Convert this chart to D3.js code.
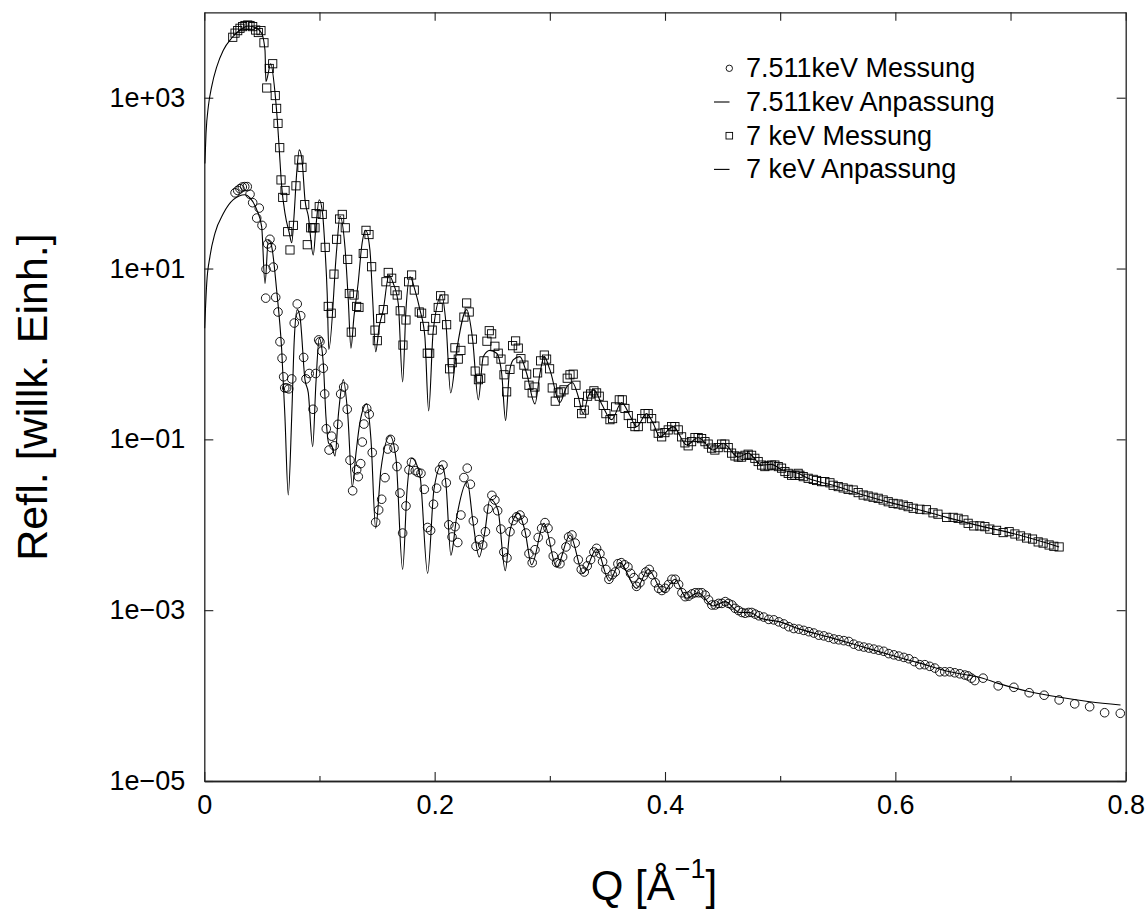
<!DOCTYPE html>
<html>
<head>
<meta charset="utf-8">
<script src="https://cdn.jsdelivr.net/npm/d3@7"></script>
<style>
  body { margin: 0; background: #fff; }
  svg { font-family: "Liberation Sans", Arial, Helvetica, sans-serif; }
</style>
</head>
<body>
<div id="refl-plot"></div>
<script>

// Reflectivity data [Q (1/A), R]

// 7.511 keV measurement (circles)
const meas7511 = [
  [0.0267,77],[0.0290,82],[0.0310,86],[0.0330,90],[0.0351,91],[0.0373,91],[0.0397,74],[0.0420,59],[0.0455,39],[0.0477,51],
  [0.0501,32],[0.0536,9.8],[0.0533,4.5],[0.0550,19.4],[0.0570,22],[0.0582,17.6],[0.0599,10.4],[0.0620,4.6],[0.0640,3.1],[0.0657,1.39],
  [0.0675,0.89],[0.0689,0.54],[0.0698,0.40],[0.0715,0.40],[0.0733,0.39],[0.0759,0.51],[0.0781,2.3],[0.0807,3.85],[0.0837,2.8],[0.0863,0.91],
  [0.0883,0.51],[0.0911,0.59],[0.0944,0.225],[0.0967,0.59],[0.0993,1.46],[0.1004,1.39],[0.1022,1.08],[0.1033,0.68],[0.1045,0.34],[0.1059,0.133],
  [0.1083,0.075],[0.1106,0.109],[0.1128,0.084],[0.1161,0.150],[0.1184,0.34],[0.1210,0.41],[0.1241,0.225],[0.1265,0.057],[0.1288,0.025],[0.1323,0.044],
  [0.1337,0.0366],[0.1358,0.052],[0.1372,0.093],[0.1386,0.151],[0.1410,0.23],[0.1432,0.197],[0.1458,0.070],[0.1488,0.0107],[0.1514,0.0149],[0.1540,0.0199],
  [0.1569,0.0356],[0.1592,0.077],[0.1616,0.100],[0.1647,0.079],[0.1673,0.048],[0.1699,0.0235],[0.1722,0.0080],[0.1751,0.0166],[0.1777,0.044],[0.1799,0.054],
  [0.1832,0.043],[0.1855,0.041],[0.1881,0.040],[0.1910,0.026],[0.1939,0.0093],[0.1965,0.0086],[0.1990,0.0174],[0.2017,0.0268],[0.2043,0.044],[0.2072,0.050],
  [0.2101,0.031],[0.2123,0.0100],[0.2151,0.0072],[0.2177,0.0095],[0.2201,0.0062],[0.2228,0.0130],[0.2254,0.0357],[0.2283,0.046],[0.2310,0.0298],[0.2336,0.0111],
  [0.2359,0.0056],[0.2387,0.0067],[0.2417,0.0058],[0.2441,0.0083],[0.2465,0.0153],[0.2497,0.0221],[0.2523,0.0195],[0.2547,0.0146],[0.2575,0.0089],[0.2601,0.0048],
  [0.2628,0.0041],[0.2654,0.0083],[0.2682,0.0112],[0.2712,0.0124],[0.2741,0.0130],[0.2769,0.0113],[0.2793,0.0080],[0.2819,0.0046],[0.2847,0.0036],[0.2871,0.0051],
  [0.2899,0.0071],[0.2929,0.0091],[0.2958,0.0106],[0.2984,0.0091],[0.3007,0.0063],[0.3030,0.0043],[0.3059,0.0036],[0.3088,0.0035],[0.3111,0.0042],[0.3140,0.0055],
  [0.3163,0.0072],[0.3192,0.0076],[0.3220,0.0061],[0.3247,0.0039],[0.3273,0.0030],[0.3299,0.0028],[0.3325,0.0033],[0.3354,0.0039],[0.3383,0.0048],[0.3406,0.0053],
  [0.3435,0.0046],[0.3458,0.0037],[0.3487,0.0030],[0.3513,0.0023],[0.3542,0.0026],[0.3568,0.0028],[0.3591,0.0035],[0.3620,0.0036],[0.3649,0.0034],[0.3678,0.0032],
  [0.3701,0.0027],[0.3730,0.0024],[0.3753,0.0019],[0.3782,0.0021],[0.3811,0.0025],[0.3834,0.0028],[0.3863,0.0030],[0.3892,0.0026],[0.3915,0.0021],[0.3945,0.0018],
  [0.3973,0.0017],[0.4002,0.0018],[0.4031,0.0020],[0.4060,0.0023],[0.4089,0.0023],[0.4118,0.0020],[0.4147,0.0016],[0.4175,0.00144],[0.4205,0.00146],[0.4234,0.00155],
  [0.4262,0.0016],[0.4292,0.0016],[0.4320,0.0016],[0.4349,0.0015],[0.4378,0.00132],[0.4407,0.00115],[0.4436,0.00115],[0.4465,0.0012],[0.4494,0.0012],[0.4523,0.00126],
  [0.4552,0.0012],[0.4581,0.00115],[0.4609,0.00105],[0.4639,0.00099],[0.4668,0.00094],[0.4696,0.00092],[0.4726,0.00094],[0.4754,0.00094],[0.4783,0.00090],[0.4815,0.00086],
  [0.4858,0.00083],[0.4901,0.00078],[0.4945,0.00077],[0.4988,0.00073],[0.5032,0.00069],[0.5075,0.00064],[0.5118,0.00061],[0.5162,0.00060],[0.5205,0.00058],[0.5249,0.00056],
  [0.5292,0.00054],[0.5335,0.00051],[0.5379,0.00050],[0.5422,0.00048],[0.5466,0.00046],[0.5509,0.00045],[0.5553,0.00044],[0.5596,0.00043],[0.5639,0.00040],[0.5683,0.00038],
  [0.5726,0.00037],[0.5770,0.00036],[0.5813,0.00035],[0.5856,0.00034],[0.5900,0.00033],[0.5943,0.00031],[0.5987,0.00030],[0.6030,0.00029],[0.6074,0.00028],[0.6117,0.00027],
  [0.6165,0.00025],[0.6212,0.00023],[0.6256,0.00023],[0.6299,0.00022],[0.6343,0.00021],[0.6386,0.00019],[0.6429,0.00019],[0.6473,0.00019],[0.6516,0.000185],[0.6560,0.00018],
  [0.6603,0.000174],[0.6632,0.00017],[0.6661,0.00016],[0.6690,0.00015],[0.6762,0.00016],[0.6893,0.00013],[0.7029,0.000125],[0.7162,0.000108],[0.7292,0.000101],[0.7422,0.000089],
  [0.7557,0.000080],[0.7687,0.000074],[0.7817,0.000063],[0.7953,0.000062]
];

// 7.511 keV fit (line)
const fit7511 = [
  [0.0003,2.0],[0.0021,6.7],[0.0049,13.8],[0.0093,26],[0.0165,44],[0.0252,64],[0.0353,73],[0.0397,67],[0.0455,49],[0.0498,31],
  [0.0527,6.7],[0.0556,21.6],[0.0585,18],[0.0628,5.6],[0.0672,1.11],[0.0700,0.185],[0.0729,0.0223],[0.0759,0.185],[0.0781,1.46],[0.0807,3.3],
  [0.0831,2.7],[0.0874,0.50],[0.0903,0.35],[0.0941,0.082],[0.0969,0.45],[0.0998,1.53],[0.1033,0.78],[0.1056,0.185],[0.1080,0.09],[0.1105,0.085],
  [0.1135,0.064],[0.1165,0.2],[0.1207,0.50],[0.1245,0.2],[0.1285,0.028],[0.1317,0.069],[0.1352,0.16],[0.1410,0.26],[0.1447,0.1],[0.1488,0.0091],
  [0.1534,0.045],[0.1612,0.11],[0.1664,0.06],[0.1722,0.0030],[0.1760,0.025],[0.1800,0.060],[0.1872,0.038],[0.1939,0.0027],[0.1994,0.026],[0.2061,0.050],
  [0.2098,0.03],[0.2141,0.0044],[0.2190,0.012],[0.2283,0.032],[0.2332,0.011],[0.2387,0.0042],[0.2437,0.0085],[0.2480,0.020],[0.2549,0.015],[0.2613,0.0029],
  [0.2654,0.0085],[0.2726,0.0136],[0.2784,0.0085],[0.2842,0.0034],[0.2949,0.0104],[0.3059,0.0032],[0.3175,0.0076],[0.3290,0.0027],[0.3406,0.0052],[0.3516,0.0022],
  [0.3609,0.0036],[0.3753,0.0018],[0.3854,0.0030],[0.3985,0.00164],[0.4086,0.0023],[0.4188,0.00138],[0.4288,0.0016],[0.4418,0.00112],[0.4523,0.00126],[0.4650,0.00094],
  [0.4737,0.00094],[0.4824,0.00081],[0.4998,0.00073],[0.5171,0.00060],[0.5431,0.00048],[0.5692,0.00038],[0.5952,0.00030],[0.6212,0.00024],[0.6473,0.00019],[0.6759,0.00016],
  [0.6893,0.000139],[0.7168,0.000111],[0.7428,0.0000955],[0.7688,0.0000848],[0.7955,0.0000775]
];

// 7 keV measurement (squares)
const meas7 = [
  [0.0247,5100],[0.0267,5700],[0.0290,6100],[0.0310,6500],[0.0333,6800],[0.0353,7000],[0.0377,7100],[0.0397,7000],[0.0420,6800],[0.0446,6200],
  [0.0469,5800],[0.0492,6100],[0.0518,4400],[0.0542,1300],[0.0564,2200],[0.0594,2500],[0.0616,1060],[0.0628,750],[0.0640,500],[0.0655,260],
  [0.0666,109],[0.0681,68],[0.0701,82],[0.0724,27],[0.0744,16.5],[0.0773,32],[0.0796,93],[0.0822,187],[0.0848,153],[0.0872,56],
  [0.0894,19],[0.0924,30],[0.0941,30],[0.0961,30],[0.0970,44],[0.0998,53],[0.1024,43],[0.1050,17.7],[0.1076,3.6],[0.1102,3.0],
  [0.1126,8.6],[0.1149,22],[0.1175,38],[0.1198,43],[0.1224,30],[0.1245,12.8],[0.1259,5.1],[0.1276,1.8],[0.1300,4.9],[0.1323,3.6],
  [0.1343,3.5],[0.1380,15],[0.1404,28],[0.1430,25],[0.1453,10.5],[0.1482,1.9],[0.1502,1.43],[0.1531,2.6],[0.1554,3.3],[0.1577,7.0],
  [0.1597,9.0],[0.1627,7.7],[0.1655,5.5],[0.1675,4.9],[0.1701,3.2],[0.1725,1.27],[0.1751,2.5],[0.1774,7.0],[0.1800,8.4],[0.1823,5.6],
  [0.1866,3.1],[0.1887,3.0],[0.1913,2.1],[0.1936,1.02],[0.1957,1.02],[0.1979,1.9],[0.2009,2.6],[0.2031,3.5],[0.2052,4.8],[0.2081,4.4],
  [0.2104,2.2],[0.2130,0.67],[0.2153,0.79],[0.2176,1.18],[0.2205,0.87],[0.2228,1.1],[0.2254,2.7],[0.2278,3.95],[0.2300,3.1],[0.2328,1.49],
  [0.2352,0.63],[0.2380,0.50],[0.2400,0.52],[0.2428,0.83],[0.2454,1.41],[0.2474,1.87],[0.2495,1.72],[0.2523,1.23],[0.2552,1.02],[0.2576,0.87],
  [0.2602,0.57],[0.2625,0.36],[0.2654,0.66],[0.2677,1.25],[0.2703,1.42],[0.2726,1.17],[0.2749,0.88],[0.2775,0.74],[0.2799,0.58],[0.2819,0.43],
  [0.2847,0.35],[0.2871,0.41],[0.2894,0.60],[0.2920,0.83],[0.2952,0.97],[0.2972,0.87],[0.2998,0.67],[0.3021,0.40],[0.3047,0.28],[0.3073,0.35],
  [0.3097,0.36],[0.3123,0.38],[0.3151,0.52],[0.3175,0.57],[0.3203,0.58],[0.3227,0.43],[0.3250,0.27],[0.3276,0.20],[0.3299,0.22],[0.3328,0.32],
  [0.3354,0.34],[0.3383,0.37],[0.3406,0.35],[0.3429,0.32],[0.3464,0.25],[0.3487,0.20],[0.3522,0.17],[0.3545,0.175],[0.3571,0.24],[0.3603,0.29],
  [0.3629,0.29],[0.3652,0.23],[0.3681,0.19],[0.3710,0.154],[0.3739,0.141],[0.3768,0.141],[0.3797,0.175],[0.3826,0.20],[0.3854,0.20],[0.3884,0.175],
  [0.3912,0.143],[0.3941,0.118],[0.3971,0.107],[0.3999,0.12],[0.4028,0.129],[0.4057,0.141],[0.4086,0.141],[0.4115,0.129],[0.4144,0.107],[0.4173,0.091],
  [0.4201,0.084],[0.4231,0.094],[0.4260,0.105],[0.4288,0.105],[0.4318,0.102],[0.4347,0.094],[0.4375,0.088],[0.4405,0.079],[0.4433,0.075],[0.4462,0.080],
  [0.4491,0.088],[0.4520,0.088],[0.4549,0.080],[0.4578,0.069],[0.4607,0.064],[0.4636,0.062],[0.4665,0.062],[0.4694,0.065],[0.4722,0.067],[0.4752,0.065],
  [0.4780,0.060],[0.4809,0.055],[0.4839,0.050],[0.4867,0.048],[0.4896,0.049],[0.4925,0.050],[0.4954,0.050],[0.4983,0.048],[0.5012,0.046],[0.5041,0.042],
  [0.5070,0.040],[0.5099,0.038],[0.5128,0.038],[0.5156,0.040],[0.5171,0.038],[0.5200,0.0366],[0.5243,0.035],[0.5287,0.034],[0.5316,0.033],[0.5359,0.032],
  [0.5388,0.032],[0.5432,0.031],[0.5460,0.029],[0.5504,0.028],[0.5547,0.027],[0.5590,0.026],[0.5634,0.0255],[0.5677,0.0238],[0.5721,0.0223],[0.5764,0.0217],
  [0.5807,0.021],[0.5851,0.0204],[0.5894,0.0195],[0.5938,0.0186],[0.5981,0.0178],[0.6024,0.0175],[0.6068,0.017],[0.6111,0.0163],[0.6155,0.0156],[0.6213,0.0152],
  [0.6270,0.015],[0.6327,0.0138],[0.6370,0.0133],[0.6445,0.0122],[0.6502,0.0122],[0.6545,0.0119],[0.6595,0.0114],[0.6632,0.0104],[0.6681,0.0097],[0.6734,0.0097],
  [0.6777,0.0095],[0.6820,0.0089],[0.6879,0.0086],[0.6936,0.0081],[0.6988,0.0083],[0.7038,0.0078],[0.7087,0.0074],[0.7139,0.0070],[0.7191,0.0068],[0.7240,0.0063],
  [0.7283,0.0061],[0.7335,0.0058],[0.7376,0.0056],[0.7422,0.0055]
];

// 7 keV fit (line)
const fit7 = [
  [0.0005,170],[0.0015,384],[0.0035,790],[0.0064,1350],[0.0108,2300],[0.0165,3600],[0.0238,5000],[0.0310,6200],[0.0382,6900],[0.0455,6500],
  [0.0498,5700],[0.0527,3600],[0.0535,1550],[0.0577,2500],[0.0614,1140],[0.0634,550],[0.0651,245],[0.0672,91],[0.0701,44],[0.0738,26],
  [0.0759,20],[0.0779,41],[0.0802,131],[0.0825,245],[0.0851,171],[0.0874,64],[0.0903,41],[0.0946,14.4],[0.0969,31],[0.0998,64],
  [0.1027,44],[0.1047,18],[0.1067,5.1],[0.1081,1.13],[0.1149,16.5],[0.1178,41],[0.1221,18],[0.1250,4.3],[0.1273,1.17],[0.1299,2.7],
  [0.1337,7],[0.1366,18],[0.1401,28],[0.1438,16.5],[0.1462,4.3],[0.1488,1.06],[0.1519,2.1],[0.1554,3.3],[0.1603,8.4],[0.1641,6.7],
  [0.1684,3.9],[0.1722,0.47],[0.1751,3.3],[0.1786,8.0],[0.1829,5.6],[0.1872,3.3],[0.1915,1.6],[0.1948,0.215],[0.1988,1.9],[0.2061,4.9],
  [0.2098,2.3],[0.2139,0.35],[0.2191,1.1],[0.2278,3.3],[0.2330,1.46],[0.2379,0.29],[0.2422,0.93],[0.2480,1.1],[0.2538,1.02],[0.2582,0.59],
  [0.2616,0.166],[0.2648,0.59],[0.2682,0.85],[0.2740,0.93],[0.2799,0.59],[0.2871,0.26],[0.2914,0.59],[0.2951,0.93],[0.3001,0.65],[0.3087,0.27],
  [0.3146,0.41],[0.3198,0.46],[0.3246,0.32],[0.3290,0.20],[0.3333,0.32],[0.3383,0.38],[0.3450,0.26],[0.3536,0.17],[0.3623,0.27],[0.3695,0.19],
  [0.3753,0.141],[0.3840,0.20],[0.3897,0.154],[0.3956,0.107],[0.4071,0.141],[0.4188,0.086],[0.4288,0.105],[0.4418,0.075],[0.4505,0.09],[0.4635,0.062],
  [0.4722,0.069],[0.4839,0.050],[0.4925,0.051],[0.5012,0.044],[0.5156,0.040],[0.5243,0.035],[0.5460,0.029],[0.5721,0.0223],[0.5981,0.0178],[0.6155,0.0156],
  [0.6445,0.0122],[0.6734,0.0097],[0.7038,0.0078],[0.7422,0.0055]
];

// ticks and legend
const xMajorTicks = [0, 0.2, 0.4, 0.6, 0.8];
const xMinorTicks = [0.1, 0.3, 0.5, 0.7];
const yMajorTicks = [1e-5, 1e-3, 1e-1, 1e1, 1e3];
const legendLabels = ["7.511keV Messung", "7.511kev Anpassung", "7 keV Messung", "7 keV Anpassung"];
const legendKinds = ["circle", "line", "square", "line"];


// Set dimensions and margins for plot
const width = 1147;
const height = 910;
const margin = {left: 204.3, right: 21.3, top: 12.3, bottom: 129};

const svg = d3.select("#refl-plot")
  .append("svg")
  .attr("width", width)
  .attr("height", height);

const xScale = d3.scaleLinear()
  .domain([0, 0.8])
  .range([margin.left, width - margin.right]);

const yScale = d3.scaleLog()
  .domain([1e-5, 1e4])
  .range([height - margin.bottom, margin.top]);

// 1e+03 style labels
const expFormat = d => {
  const e = Math.round(Math.log10(d));
  return "1e" + (e < 0 ? "\u2212" : "+") + String(Math.abs(e)).padStart(2, "0");
};

/*
  Axes (ticks point inwards on all four sides)
*/
const axisStyle = g => {
  g.select(".domain").attr("stroke", "#222").attr("stroke-width", 1.3);
  g.selectAll(".tick line").attr("stroke", "#222").attr("stroke-width", 1.1);
  g.selectAll("text").attr("font-size", "27px").attr("fill", "#000")
    .attr("font-family", '"Liberation Sans", Arial, Helvetica, sans-serif');
};

svg.append("g")
  .attr("transform", `translate(0,${height - margin.bottom})`)
  .call(d3.axisBottom(xScale).tickValues(xMajorTicks).tickSize(-9).tickSizeOuter(0).tickPadding(14)
    .tickFormat(d => d === 0 ? "0" : d3.format(".1f")(d)))
  .call(axisStyle);

svg.append("g")
  .attr("transform", `translate(0,${height - margin.bottom})`)
  .call(d3.axisBottom(xScale).tickValues(xMinorTicks).tickSize(-5).tickSizeOuter(0).tickFormat(""))
  .call(axisStyle);

svg.append("g")
  .attr("transform", `translate(0,${margin.top})`)
  .call(d3.axisTop(xScale).tickValues(xMajorTicks.concat(xMinorTicks)).tickSize(-8.5).tickSizeOuter(0).tickFormat(""))
  .call(axisStyle);

svg.append("g")
  .attr("transform", `translate(${margin.left},0)`)
  .call(d3.axisLeft(yScale).tickValues(yMajorTicks).tickSize(-9).tickSizeOuter(0).tickPadding(19).tickFormat(expFormat))
  .call(axisStyle);

svg.append("g")
  .attr("transform", `translate(${width - margin.right},0)`)
  .call(d3.axisRight(yScale).tickValues(yMajorTicks).tickSize(-9).tickSizeOuter(0).tickFormat(""))
  .call(axisStyle);

// axis titles
svg.append("text")
  .attr("transform", "translate(46.5,397) rotate(-90)")
  .attr("text-anchor", "middle")
  .attr("font-size", "43px")
  .text("Refl. [willk. Einh.]");

const xTitle = svg.append("text")
  .attr("x", 654)
  .attr("y", 900)
  .attr("text-anchor", "middle")
  .attr("font-size", "42px");
xTitle.append("tspan").text("Q [\u00C5");
xTitle.append("tspan").attr("font-size", "27px").attr("dy", -22).text("\u22121");
xTitle.append("tspan").attr("dy", 22).text("]");

/*
  Fit lines and measured points
*/
svg.append("clipPath").attr("id", "plot-clip")
  .append("rect")
  .attr("x", margin.left).attr("y", margin.top)
  .attr("width", width - margin.left - margin.right)
  .attr("height", height - margin.top - margin.bottom);

const plot = svg.append("g").attr("clip-path", "url(#plot-clip)");

const line = d3.line()
  .x(d => xScale(d[0]))
  .y(d => yScale(d[1]))
  .curve(d3.curveMonotoneX);

[fit7511, fit7].forEach(fit => {
  plot.append("path")
    .datum(fit)
    .attr("fill", "none")
    .attr("stroke", "#000")
    .attr("stroke-width", 1.1)
    .attr("d", line);
});

plot.selectAll(".circ")
  .data(meas7511)
  .enter()
  .append("circle")
    .attr("class", "circ")
    .attr("cx", d => xScale(d[0]))
    .attr("cy", d => yScale(d[1]))
    .attr("r", 4.3)
    .attr("fill", "none")
    .attr("stroke", "#000")
    .attr("stroke-width", 0.9);

const sq = 8.2;
plot.selectAll(".sq")
  .data(meas7)
  .enter()
  .append("rect")
    .attr("class", "sq")
    .attr("x", d => xScale(d[0]) - sq / 2)
    .attr("y", d => yScale(d[1]) - sq / 2)
    .attr("width", sq)
    .attr("height", sq)
    .attr("fill", "none")
    .attr("stroke", "#000")
    .attr("stroke-width", 0.9);

/*
  Legend
*/
const legend = svg.append("g");
legendLabels.forEach((label, i) => {
  const base = 77.3 + i * 33.7;
  const cy = base - 9;
  const kind = legendKinds[i];
  if (kind === "circle") {
    legend.append("circle").attr("cx", 729.3).attr("cy", cy).attr("r", 3.2)
      .attr("fill", "none").attr("stroke", "#000").attr("stroke-width", 0.9);
  } else if (kind === "square") {
    legend.append("rect").attr("x", 729.3 - 3.3).attr("y", cy - 3.3).attr("width", 6.6).attr("height", 6.6)
      .attr("fill", "none").attr("stroke", "#000").attr("stroke-width", 0.9);
  } else {
    legend.append("line").attr("x1", 714).attr("x2", 729.5).attr("y1", cy).attr("y2", cy)
      .attr("stroke", "#000").attr("stroke-width", 1.1);
  }
  legend.append("text")
    .attr("x", 746)
    .attr("y", base)
    .attr("font-size", "27px")
    .text(label);
});

</script>
</body>
</html>
